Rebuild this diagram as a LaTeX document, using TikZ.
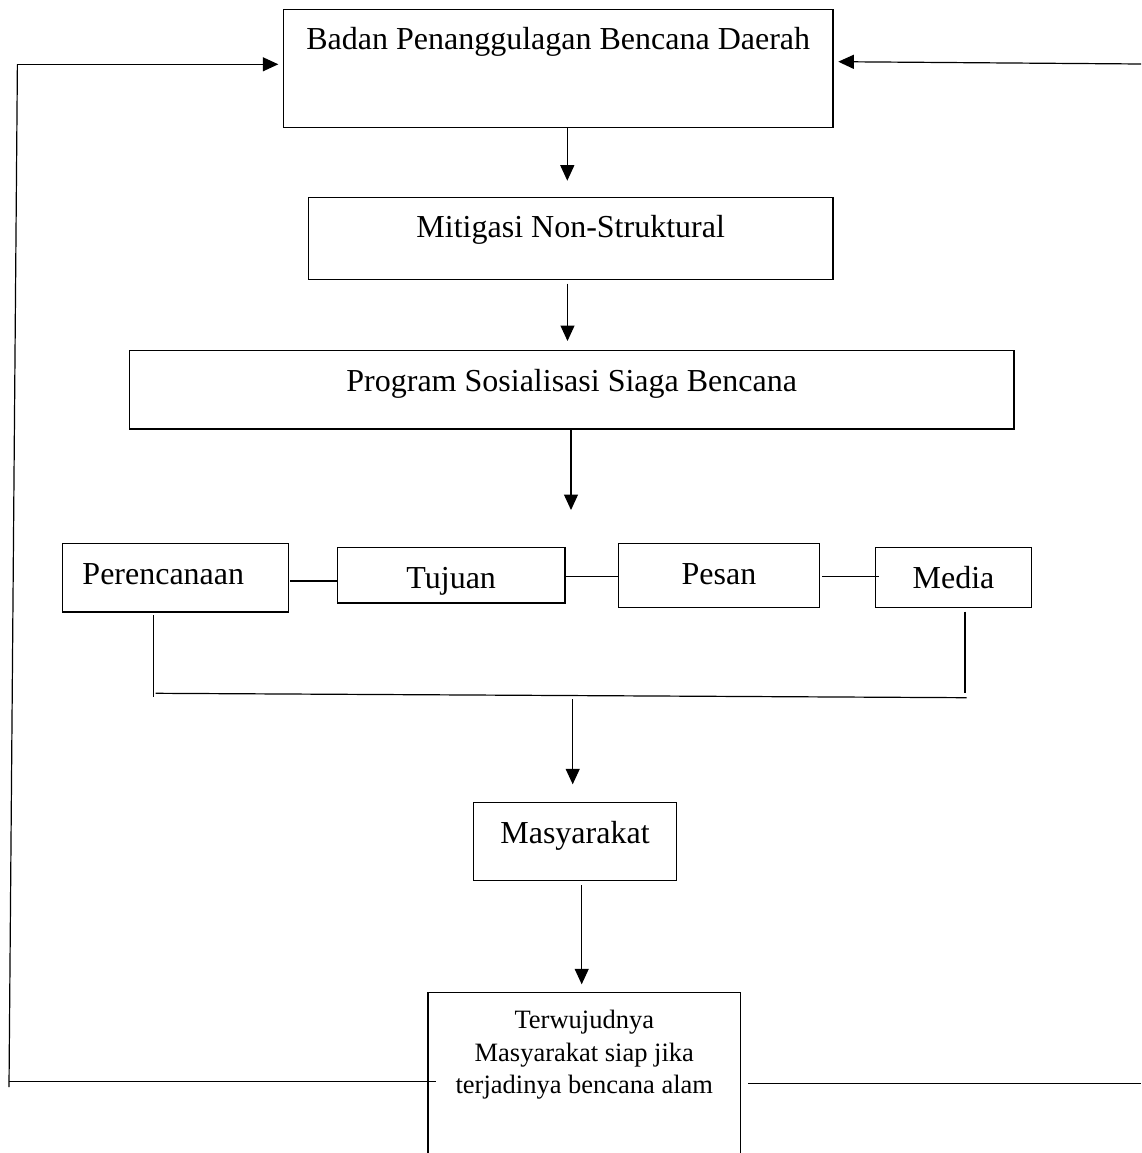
\documentclass[tikz,border=0pt]{standalone}
\usepackage{fontspec}
\setmainfont{Liberation Serif}
\usetikzlibrary{arrows.meta}
\begin{document}
\begin{tikzpicture}[x=1pt,y=-1pt,
  box/.style={draw, line width=1.2pt, inner sep=0pt, anchor=base, font=\fontsize{32}{38}\selectfont},
  ln/.style={line width=1.2pt},
  arr/.style={line width=1.2pt, -{Triangle[length=15.5pt,width=14pt]}}]
\clip (0,0) rectangle (1141,1153);
\fill[white] (0,0) rectangle (1141,1153);
% boxes
\node[box, minimum width=549.7pt, text height=40.7pt, text depth=77.3pt] (b1) at (558.2,50) {Badan Penanggulagan Bencana Daerah};
\node[box, minimum width=524.7pt, text height=39.7pt, text depth=42.3pt] (b2) at (570.7,237) {Mitigasi Non-Struktural};
\node[box, minimum width=884.7pt, text height=41pt, text depth=37.3pt] (b3) at (571.7,391.7) {Program Sosialisasi Siaga Bencana};
\node[box, minimum width=226pt, text height=40.7pt, text depth=28pt] (pr) at (175.3,584) {Perencanaan\kern24pt};
\node[box, minimum width=227.6pt, text height=40.6pt, text depth=14.7pt] (tu) at (451.2,588.3) {Tujuan};
\node[box, minimum width=201.3pt, text height=40.7pt, text depth=23.7pt] (pe) at (719,584) {Pesan};
\node[box, minimum width=156.4pt, text height=40.6pt, text depth=19.4pt] (me) at (953.5,588.3) {Media};
\node[box, minimum width=203.4pt, text height=41pt, text depth=37pt] (ma) at (575,843.3) {Masyarakat};
\node[box, minimum width=312.7pt, text height=36pt, text depth=200pt, font=\fontsize{26.5}{32.7}\selectfont] (tw) at (584.3,1028.3)
  {\begin{tabular}[t]{@{}c@{}}Terwujudnya\\Masyarakat siap jika\\terjadinya bencana alam\end{tabular}};
% vertical arrows
\coordinate (t1) at (567.3,180.7);
\draw[arr] (b1.south -| t1) -- (t1);
\coordinate (s2) at (567.5,283.5);
\coordinate (t2) at (567.5,341);
\draw[arr] (s2) -- (t2);
\coordinate (t3) at (571,510);
\draw[arr] (b3.south -| t3) -- (t3);
% links between the four boxes
\coordinate (c1) at (290,581);
\draw[ln] (c1) -- (c1 -| tu.west);
\coordinate (c2) at (0,576.7);
\draw[ln] (tu.east |- c2) -- (pe.west |- c2);
\coordinate (c3) at (822.3,576.7);
\coordinate (c4) at (879.3,576.7);
\draw[ln] (c3) -- (c4);
% bracket
\coordinate (k1) at (153.7,615);
\coordinate (k2) at (153.7,696.7);
\draw[ln] (k1) -- (k2);
\coordinate (k3) at (155.6,693.3);
\coordinate (k4) at (966.7,697.7);
\draw[ln] (k3) -- (k4);
\coordinate (k5) at (965,611.7);
\coordinate (k6) at (965,693.3);
\draw[ln] (k5) -- (k6);
% arrows to Masyarakat and result
\coordinate (s4) at (572.7,699);
\coordinate (t4) at (572.7,784.3);
\draw[arr] (s4) -- (t4);
\coordinate (s5) at (581.7,885.3);
\coordinate (t5) at (581.7,984.3);
\draw[arr] (s5) -- (t5);
% feedback loops
\coordinate (l1) at (435.7,1081.7);
\coordinate (l2) at (9.3,1081.7);
\draw[ln] (l1) -- (l2);
\coordinate (l3) at (9,1087);
\coordinate (l4) at (17.4,64.3);
\coordinate (l5) at (278.3,64.3);
\draw[ln] (l3) -- (l4);
\draw[arr] (l4) -- (l5);
\coordinate (r1) at (748.3,1083.3);
\coordinate (r2) at (1141,1083.3);
\draw[ln] (r1) -- (r2);
\coordinate (r3) at (1141,64);
\coordinate (r4) at (838.3,61.7);
\draw[arr] (r3) -- (r4);
\end{tikzpicture}
\end{document}
